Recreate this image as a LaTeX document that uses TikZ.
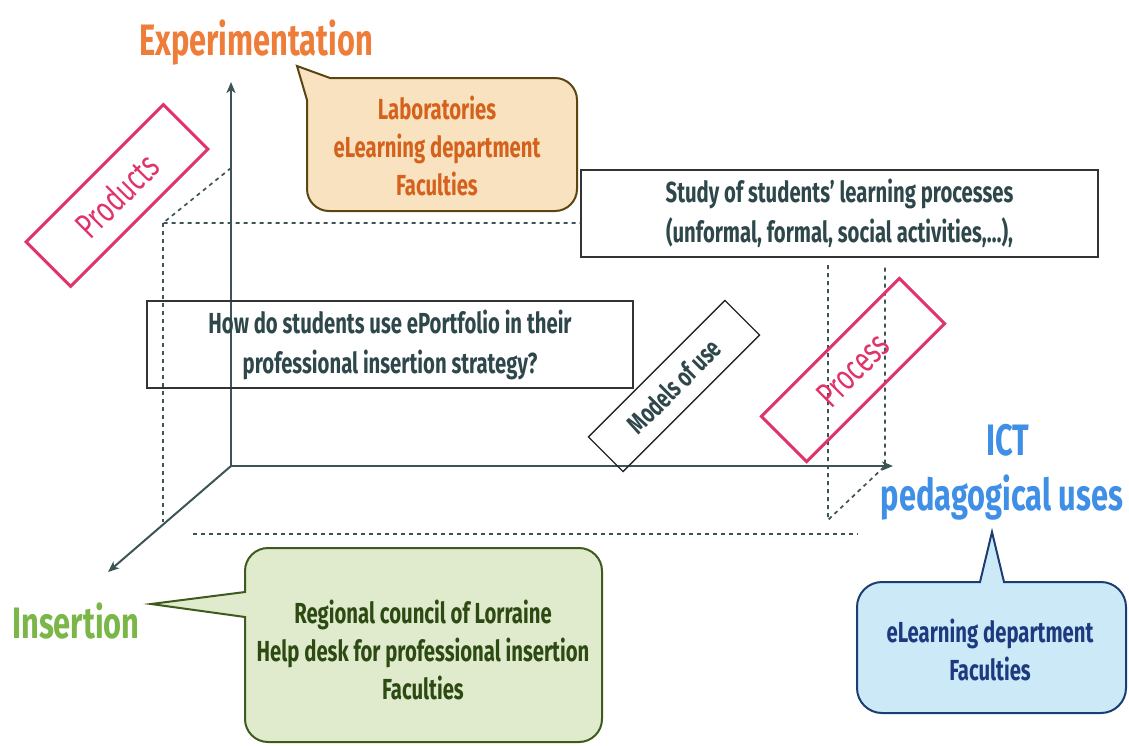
\documentclass[tikz,border=0pt]{standalone}
\usepackage{fontspec}
\setmainfont{Fira Sans}[FakeStretch=0.70]
\usetikzlibrary{arrows.meta}

\definecolor{axisgrey}{HTML}{3D5457}
\definecolor{boxtext}{HTML}{2E474B}
\definecolor{tagpink}{HTML}{E0336A}
\definecolor{exporange}{HTML}{EE7D3A}
\definecolor{expfill}{HTML}{F9E2C0}
\definecolor{expline}{HTML}{5B4512}
\definecolor{exptext}{HTML}{D4621C}
\definecolor{insgreen}{HTML}{7AB648}
\definecolor{insfill}{HTML}{E0EBCE}
\definecolor{insline}{HTML}{3E5B1E}
\definecolor{instext}{HTML}{2D4A12}
\definecolor{ictblue}{HTML}{3F8FE6}
\definecolor{ictfill}{HTML}{CCE9F8}
\definecolor{ictline}{HTML}{1C3D73}
\definecolor{icttext}{HTML}{1E3A7E}

\tikzset{
  axis/.style={line width=2pt, color=axisgrey, -{Stealth[length=11pt,width=9pt,inset=3pt]}},
  guide/.style={line width=1.7pt, color=axisgrey, dash pattern=on 4pt off 4pt},
  textbox/.style={draw=black!80, line width=1.2pt, text=boxtext, align=center,
    inner sep=0pt, font=\fontsize{29}{40}\selectfont\bfseries},
  tagbox/.style={line width=3pt, inner sep=0pt, rotate=45, font=\fontsize{36}{40}\selectfont},
  title/.style={anchor=base, font=\fontsize{44}{54}\selectfont\bfseries},
  bubbletext/.style={align=center, font=\fontsize{29}{38}\selectfont\bfseries},
}

\begin{document}
\begin{tikzpicture}[x=1pt, y=1pt]
  \useasboundingbox (0,0) rectangle (1129,-745);

  %% axes
  \coordinate (O) at (231,-466);
  \coordinate (up) at (231,-82);
  \coordinate (right) at (893,-466);
  \coordinate (front) at (108,-572);

  %% dashed guides
  \draw[guide] (231,-168) -- (163,-223) -- (580,-223);
  \draw[guide] (163,-223) -- (163,-522);
  \draw[guide] (193,-534) -- (858,-534);
  \draw[guide] (828,-265) -- (828,-520) -- (885,-466) -- (885,-267);

  \draw[axis] (O) -- (up);
  \draw[axis] (O) -- (right);
  \draw[axis] (O) -- (front);

  %% callouts
  \draw[line width=2pt, draw=expline, fill=expfill]
    (330,-78) -- (555,-78) arc[start angle=90, end angle=0, radius=22]
    -- (577,-189) arc[start angle=0, end angle=-90, radius=22]
    -- (329,-211) arc[start angle=270, end angle=180, radius=22]
    -- (307,-100) -- (297,-66) -- cycle;
  \draw[line width=2pt, draw=insline, fill=insfill]
    (245,-592) -- (245,-571) arc[start angle=180, end angle=90, radius=23]
    -- (579,-548) arc[start angle=90, end angle=0, radius=23]
    -- (602,-719) arc[start angle=0, end angle=-90, radius=23]
    -- (268,-742) arc[start angle=270, end angle=180, radius=23]
    -- (245,-617) -- (151,-604) -- cycle;
  \draw[line width=2pt, draw=ictline, fill=ictfill]
    (1004,-582) -- (1101,-582) arc[start angle=90, end angle=0, radius=25]
    -- (1126,-688) arc[start angle=0, end angle=-90, radius=25]
    -- (882,-713) arc[start angle=270, end angle=180, radius=25]
    -- (857,-607) arc[start angle=180, end angle=90, radius=25]
    -- (980,-582) -- (992,-532) -- cycle;

  %% titles
  \node[title, text=exporange] (exp) at (256,-55) {Experimentation};
  \node[title, text=insgreen] (ins) at (76,-638) {Insertion};
  \node[title, text=ictblue] (ict) at (1008,-455) {ICT};
  \node[title, text=ictblue] (uses) at (1002,-510) {pedagogical uses};

  %% bubble texts
  \node[bubbletext, text=exptext] (labs) at (437,-146) {Laboratories\\eLearning department\\Faculties};
  \node[bubbletext, text=instext] (region) at (423,-650) {Regional council of Lorraine\\Help desk for professional insertion\\Faculties};
  \node[bubbletext, text=icttext] (elearn) at (990,-650) {eLearning department\\Faculties};

  %% question boxes
  \node[textbox, minimum width=517, minimum height=87] (study) at (839.5,-213.5)
    {Study of students’ learning processes\\(unformal, formal, social activities,…),};
  \node[textbox, minimum width=486, minimum height=87] (how) at (390,-344.5)
    {How do students use ePortfolio in their\\professional insertion strategy?};

  %% tilted tags
  \node[tagbox, draw=tagpink, text=tagpink, minimum width=194, minimum height=63] (prod) at (117,-195.5) {Products};
  \node[tagbox, draw=tagpink, text=tagpink, minimum width=195, minimum height=64] (proc) at (853,-370) {Process};
  \node[tagbox, draw=black!85, text=boxtext, line width=1.3pt, minimum width=193, minimum height=49,
    font=\fontsize{27}{32}\selectfont\bfseries] (models) at (674,-386) {Models of use};
\end{tikzpicture}
\end{document}
